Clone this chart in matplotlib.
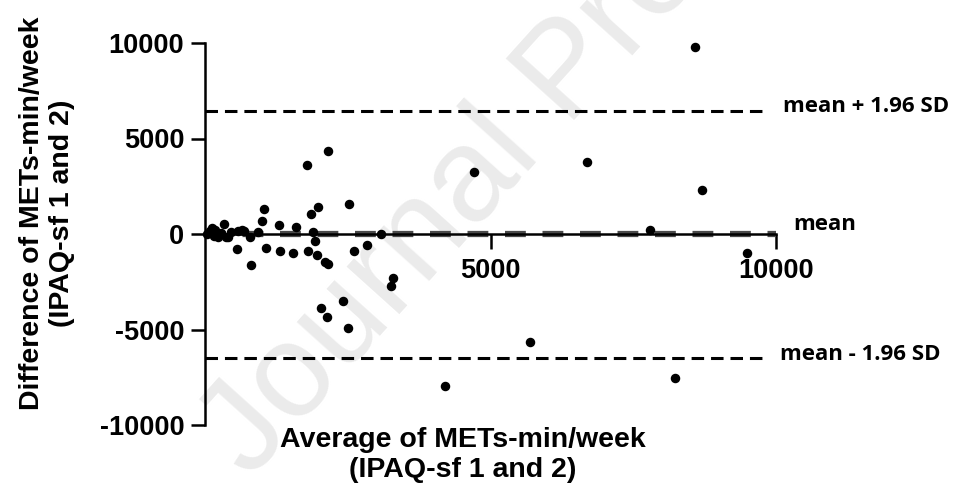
import matplotlib
matplotlib.use("Agg")
import matplotlib.pyplot as plt

# Bland-Altman data
avg_vals = [40, 90, 120, 150, 180, 230, 280, 330, 360, 410, 450, 580, 650, 690, 790, 930,
            1000, 1030, 1300, 1590, 1860, 1890, 1980, 1790, 2150, 2520,
            560, 805, 1075, 1320, 1540, 1810, 1930, 1960, 2100, 2150, 2610, 2840, 3080,
            3260, 3290, 2420, 2030, 2140, 2500,
            4710, 6690, 8590, 8700, 7790, 9500,
            5690, 4200, 8230]
diff_vals = [0, 150, 320, -80, 210, -170, 60, 520, -160, -150, 90, 160, 210, 150, -160, 100,
             680, 1310, 470, 370, 1050, 100, 1410, 3610, 4350, 1570,
             -760, -1620, -730, -870, -990, -880, -370, -1100, -1470, -1570, -890, -580, 0,
             -2720, -2300, -3510, -3870, -4350, -4920,
             3250, 3770, 9790, 2300, 210, -990,
             -5650, -7960, -7540]

mean_diff = -20
upper_loa = 6440
lower_loa = -6480
loa_end = 9850

x_ticks = [5000, 10000]
y_ticks = [-10000, -5000, 0, 5000, 10000]

plt.rcParams['lines.scale_dashes'] = False
plt.rcParams['axes.unicode_minus'] = False
W, H = 968, 488
fig = plt.figure(figsize=(W / 100, H / 100), dpi=100)
ax = fig.add_axes([205 / W, 63 / H, (776 - 205) / W, (425 - 43) / H])
ax.patch.set_alpha(0)

# watermark
fig.text(250 / W, 1 - 480 / H, 'Journal Pre-proof', rotation=48, rotation_mode='anchor',
         ha='left', va='baseline', fontsize=96, color='#ebebeb',
         family='Liberation Sans', zorder=-5)

ax.set_xlim(0, 10000)
ax.set_ylim(-10000, 10000)

ax.hlines(mean_diff, 0, 10000, colors='#4a4a4a', linewidth=4.5,
          linestyles=[(0, (15, 12))], zorder=2)
ax.hlines([upper_loa, lower_loa], 0, loa_end, colors='black', linewidth=2.2,
          linestyles=[(0, (9, 5))], zorder=2, clip_on=False)
ax.scatter(avg_vals, diff_vals, s=34, color='black', zorder=4, clip_on=False)

for s in ['top', 'right']:
    ax.spines[s].set_visible(False)
ax.spines['bottom'].set_position(('data', 0))
for s in ['left', 'bottom']:
    ax.spines[s].set_linewidth(1.8)
    ax.spines[s].set_zorder(3)

ax.set_xticks(x_ticks)
ax.set_yticks(y_ticks)
ax.tick_params(axis='both', width=1.8, direction='out', labelsize=19.5)
ax.tick_params(axis='y', length=10, pad=5)
ax.tick_params(axis='x', length=11, pad=6)
for lab in ax.get_xticklabels() + ax.get_yticklabels():
    lab.set_fontweight('bold')
    lab.set_family('Liberation Sans')

lbl = dict(fontsize=20.5, fontweight='bold', family='Liberation Sans',
           ha='center', va='center', multialignment='center', linespacing=1.2)
fig.text(47 / W, 1 - 213 / H, 'Difference of METs-min/week\n(IPAQ-sf 1 and 2)',
         rotation=90, **lbl)
fig.text(463 / W, 1 - 455 / H, 'Average of METs-min/week\n(IPAQ-sf 1 and 2)', **lbl)

side = dict(fontsize=16, fontweight='bold', family='Open Sans', va='center', ha='left')
fig.text(783 / W, 1 - 106 / H, 'mean + 1.96 SD', **side)
fig.text(793 / W, 1 - 225 / H, 'mean', **side)
fig.text(780 / W, 1 - 355 / H, 'mean - 1.96 SD', **side)

fig.savefig('out.png', dpi=100)
